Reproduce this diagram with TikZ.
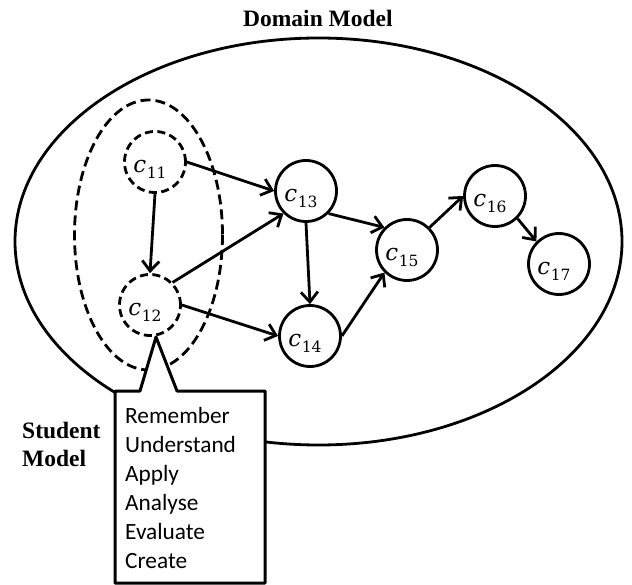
\documentclass[tikz,border=0pt]{standalone}
\usepackage{fontspec}
\setmainfont{Liberation Serif}
\newfontfamily\carlito{Carlito}
\newfontfamily\dvserif{DejaVu Serif}
\usetikzlibrary{arrows.meta}
\tikzset{
 lw/.style={line width=2.8pt},
 concept/.style={circle, draw, line width=2.8pt, minimum size=61pt, inner sep=0pt},
 dconcept/.style={concept, dash pattern=on 8pt off 4.5pt},
 link/.style={line width=2.8pt, -{Straight Barb[length=10pt,width=17pt]}},
 title/.style={font=\fontsize{23.5}{28}\selectfont\bfseries, anchor=base west, inner sep=0pt},
 level/.style={font=\carlito\fontsize{23.3}{29}\selectfont, anchor=base west, inner sep=0pt},
}
\newcommand\clabel[1]{\raisebox{-10.5pt}[0pt][0pt]{\dvserif\fontsize{23}{26}\selectfont\itshape c\kern0.5pt\raisebox{-6pt}{\upshape\fontsize{15.5}{18}\selectfont #1}}\kern10pt}
\begin{document}
\begin{tikzpicture}[x=1pt,y=-1pt]
\useasboundingbox (0,0) rectangle (632,585);
\draw[lw] (318.5,241.5) ellipse [x radius=303.5, y radius=203.5];
\node[title] (dm) at (243,27) {Domain Model};
\draw[lw, dash pattern=on 10pt off 5pt] (148.5,235) ellipse [x radius=74, y radius=135];
\node[dconcept] (c11) at (155,162) {\clabel{11}};
\node[dconcept] (c12) at (150,305) {\clabel{12}};
\node[concept] (c13) at (306,191) {\clabel{13}};
\node[concept] (c14) at (310,336) {\clabel{14}};
\node[concept] (c15) at (407,250) {\clabel{15}};
\node[concept] (c16) at (495,196) {\clabel{16}};
\node[concept] (c17) at (559,264) {\clabel{17}};
\draw[link] (c11.south) -- (c12.north);
\draw[link] (c11.east) -- (c13.west);
\draw[link] (c12.45) -- (c13.225);
\draw[link] (c12.east) -- (c14.west);
\draw[link] (c13.south) -- (c14.north);
\draw[link] (c13.-45) -- (c15.135);
\draw[link] (c14.east) -- (c15.225);
\draw[link] (c15.45) -- (c16.west);
\draw[link] (c16.-45) -- (c17.135);
\coordinate (apex) at (156,337);
\draw[line width=3pt, fill=white, line join=round] (115,391) -- (140,391) -- (apex) -- (177,391) -- (265,391) -- (265,583) -- (115,583) -- cycle;
\foreach \t [count=\i] in {Remember,Understand,Apply,Analyse,Evaluate,Create}
  \node[level] (lv\i) at (125,{423+29*(\i-1)}) {\t};
\node[title] (sm1) at (22,438) {Student};
\node[title] (sm2) at (22,466) {Model};
\end{tikzpicture}
\end{document}
